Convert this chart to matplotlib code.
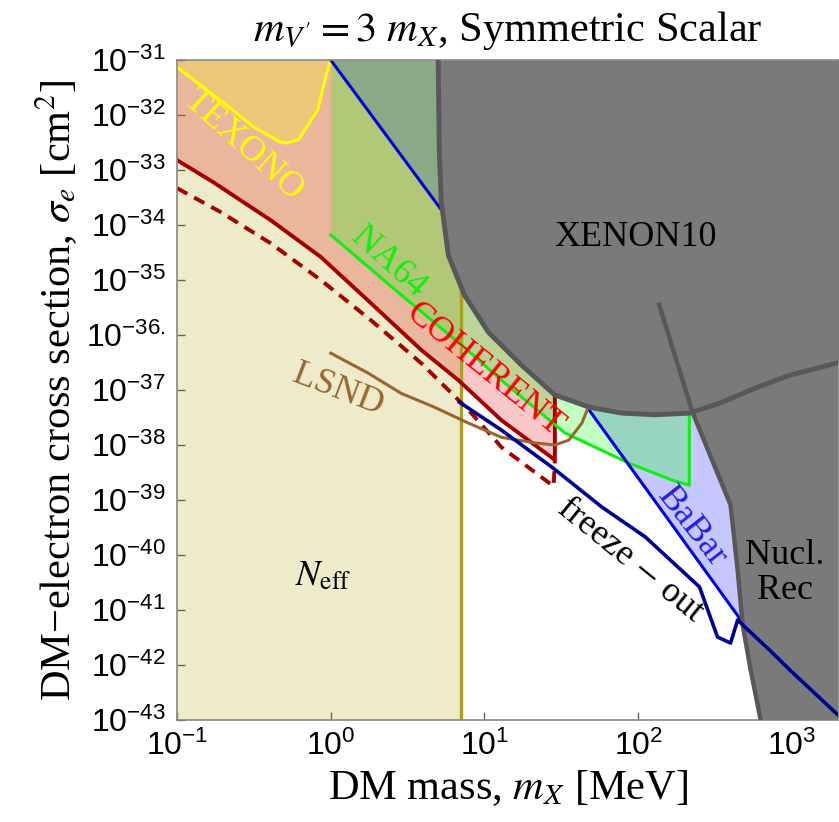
import numpy as np
import matplotlib.pyplot as plt
from matplotlib.ticker import NullLocator

plt.rcParams['font.family'] = ['Liberation Serif', 'DejaVu Serif']
plt.rcParams['mathtext.fontset'] = 'custom'
plt.rcParams['mathtext.rm'] = 'Liberation Sans'
plt.rcParams['mathtext.it'] = 'Liberation Sans:italic'
plt.rcParams['mathtext.bf'] = 'Liberation Sans:bold'

# all curves given as log10(m_X / MeV) and log10(sigma_e / cm^2)
neff_mass = 7.0

texono_logm = [-1.0, -0.72, -0.50, -0.33, -0.29, -0.21, -0.085, -0.033, 0.0]
texono_logs = [-31.13, -31.73, -32.22, -32.49, -32.51, -32.45, -31.91, -31.31, -31.0]

coh_logm = [-1.0, -0.765, -0.392, -0.065, 0.261, 0.588, 0.83, 1.111, 1.458, 1.458]
coh_logs = [-32.82, -33.22, -33.91, -34.58, -35.42, -36.27, -36.82, -37.55, -38.27, -37.1]

cohdash_logm = [-1.0, -0.719, -0.392, -0.065, 0.261, 0.588, 0.895, 1.111, 1.45, 1.458]
cohdash_logs = [-33.33, -33.76, -34.33, -35.0, -35.73, -36.51, -37.36, -38.04, -38.75, -38.27]

na64_logm = [0.0, 0.458, 0.85, 1.131, 1.523, 1.941, 2.222, 2.333, 2.333]
na64_logs = [-34.18, -35.27, -36.18, -36.87, -37.78, -38.33, -38.64, -38.73, -37.42]

babar_logm = [0.0, 1.68, 2.66]
babar_logs = [-31.0, -37.36, -41.15]

xenon_logm = [0.699, 0.706, 0.719, 0.765, 0.869, 1.026, 1.242, 1.458, 1.68, 1.895,
              2.111, 2.333, 2.549, 2.765, 2.987, 3.32]
xenon_logs = [-31.0, -32.64, -33.58, -34.55, -35.27, -35.95, -36.55, -37.09, -37.31, -37.42,
              -37.45, -37.42, -37.22, -36.96, -36.73, -36.49]

nucl_logm = [2.137, 2.353, 2.601, 2.647, 2.68, 2.732, 2.797]
nucl_logs = [-35.45, -37.4, -39.09, -40.27, -41.27, -42.09, -43.0]

fo_logm = [0.837, 1.111, 1.438, 1.765, 2.046, 2.399, 2.516, 2.601, 2.647, 2.68, 2.856, 2.987, 3.32]
fo_logs = [-37.22, -37.73, -38.4, -39.13, -39.67, -40.58, -41.49, -41.6, -41.18, -41.27,
           -41.73, -42.09, -42.96]

lsnd_logm = [0.0, 0.242, 0.458, 0.673, 0.895, 1.111, 1.327, 1.458, 1.549, 1.634, 1.673]
lsnd_logs = [-36.33, -36.69, -37.06, -37.31, -37.6, -37.86, -37.96, -38.0, -37.91, -37.6, -37.33]

xticks = [0.1, 1, 10, 100, 1000]
xtick_labels = [r'$10^{-1}$', r'$10^{0}$', r'$10^{1}$', r'$10^{2}$', r'$10^{3}$']
yexp = list(range(-43, -30))
ytick_labels = [r'$10^{%d}$' % e for e in yexp]
ytick_labels[yexp.index(-36)] = r'$10^{-36.}$'

xmin, xmax = 0.1, 2000
ymin, ymax = 1e-43, 1e-31

def pts(lm, ls):
    return 10 ** np.array(lm), 10 ** np.array(ls)

fig = plt.figure(figsize=(8.39, 8.22), dpi=100)
ax = fig.add_axes([0.211, 0.124, 0.788, 0.803])
ax.set_xscale('log')
ax.set_yscale('log')

# shaded regions
ax.axvspan(xmin, neff_mass, color='#aea500', alpha=0.21, lw=0, zorder=1)
m, s = pts(coh_logm, coh_logs)
ax.fill_between(m, s, ymax, color='#e00000', alpha=0.22, lw=0, zorder=1)
m, s = pts(texono_logm, texono_logs)
ax.fill_between(m, s, ymax, color='#ffff00', alpha=0.22, lw=0, zorder=1)
m, s = pts(babar_logm, babar_logs)
ax.fill_between(m, s, ymax, color='#0000ff', alpha=0.22, lw=0, zorder=1)
m, s = pts(na64_logm, na64_logs)
ax.fill_between(m, s, ymax, color='#00ff00', alpha=0.24, lw=0, zorder=1)

# lines
ax.axvline(neff_mass, color='#aaa020', lw=2.4, zorder=2)
ax.plot(*pts(texono_logm, texono_logs), color='#ffff00', lw=2.2, zorder=2)
ax.plot(*pts(coh_logm, coh_logs), color='#a50000', lw=2.8, zorder=2)
ax.plot(*pts(cohdash_logm, cohdash_logs), color='#a50000', lw=2.8, ls=(0, (3, 2)), zorder=2)
ax.plot(*pts(na64_logm, na64_logs), color='#11ee11', lw=2.2, zorder=2)
ax.plot(*pts(babar_logm, babar_logs), color='#0000dd', lw=2.2, zorder=2)
ax.plot(*pts(lsnd_logm, lsnd_logs), color='#996633', lw=2.2, zorder=2)

# XENON10 and nuclear recoil
m, s = pts(xenon_logm, xenon_logs)
ax.fill_between(m, s, ymax, color='#7a7a7a', lw=0, zorder=3)
nm, ns = pts(nucl_logm, nucl_logs)
ax.fill(np.r_[nm, xmax, xmax], np.r_[ns, ymin, ns[0]], color='#7a7a7a', lw=0, zorder=3)
ax.plot(m, s, color='#585858', lw=3.5, zorder=4)
ax.plot(nm, ns, color='#585858', lw=3.2, zorder=4)

ax.plot(*pts(fo_logm, fo_logs), color='#000090', lw=2.6, zorder=5)

# region labels
tk = dict(fontsize=26, ha='center', va='center', math_fontfamily='stix', zorder=6)
ax.text(10**-0.569, 10**-32.545, 'TEXONO', color='#ffff00', rotation=-42, **tk)
ax.text(10**0.373, 10**-34.673, 'NA64', color='#11ee11', rotation=-42, **tk)
ax.text(10**1.0, 10**-36.636, 'COHERENT', color='#ff0000', rotation=-39, **tk)
ax.text(10**0.046, 10**-37.0, 'LSND', color='#996633', rotation=-21, **tk)
ax.text(10**1.98, 10**-34.218, 'XENON10', color='black', **tk)
ax.text(10**1.948, 10**-40.09, 'freeze $-$ out', color='black', rotation=-39, **tk)
ax.text(10**2.353, 10**-39.5, 'BaBar', color='#2222dd', rotation=-52, **tk)
ax.text(10**2.954, 10**-40.33, 'Nucl.\nRec', color='black', linespacing=1.1, **tk)
ax.text(10**-0.052, 10**-40.4, r'$N_{\rm eff}$', color='black', **tk)

ax.set_xlim(xmin, xmax)
ax.set_ylim(ymin, ymax)
ax.set_xticks(xticks)
ax.set_xticklabels(xtick_labels)
ax.set_yticks([10.0 ** e for e in yexp])
ax.set_yticklabels(ytick_labels)
ax.xaxis.set_minor_locator(NullLocator())
ax.yaxis.set_minor_locator(NullLocator())
ax.tick_params(direction='in', length=6, width=1, color='#666666', labelsize=23,
               top=False, right=False, pad=8)
for lab in ax.get_xticklabels() + ax.get_yticklabels():
    lab.set_fontfamily('Liberation Sans')
for sp in ax.spines.values():
    sp.set_color('#888888')
    sp.set_linewidth(1.2)

ax.set_xlabel(r'DM mass, $m_X$ [MeV]', fontsize=30.5, math_fontfamily='stix', labelpad=4)
ax.set_ylabel(r'DM−electron cross section, $\sigma_e$ [cm$^2$]', fontsize=30.5,
              math_fontfamily='stix', labelpad=4)
ax.set_title(r"$m_{V'} = 3\ m_X$, Symmetric Scalar", fontsize=30.5, math_fontfamily='stix', pad=14)

fig.savefig('out.png', dpi=100)
